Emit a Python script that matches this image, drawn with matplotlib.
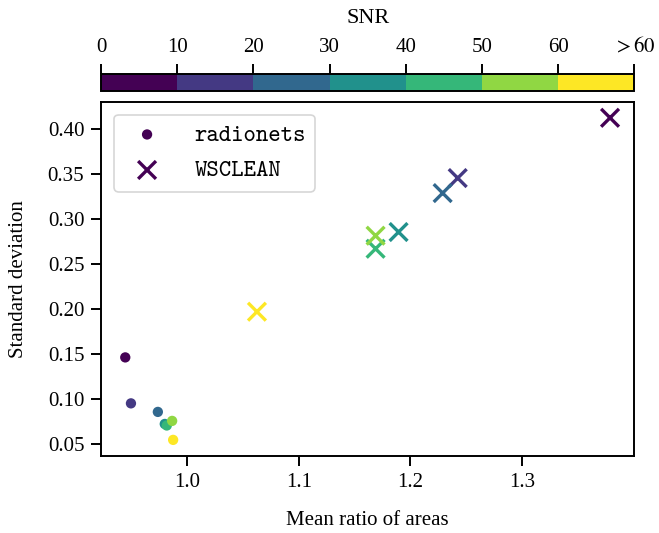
import numpy as np
import matplotlib
matplotlib.use("Agg")
import matplotlib.pyplot as plt
from matplotlib.colors import ListedColormap, BoundaryNorm
from matplotlib.font_manager import FontProperties
import os

plt.rcParams["font.family"] = ["Liberation Serif", "DejaVu Serif"]
plt.rcParams["mathtext.fontset"] = "stix"
plt.rcParams["font.size"] = 15

# SNR bins (lower edges) and their tick labels
snr_edges = [0, 10, 20, 30, 40, 50, 60, 70]
snr_ticklabels = ["0", "10", "20", "30", "40", "50", "60", r"$>60$"]
snr_centers = [5, 15, 25, 35, 45, 55, 65]

# radionets: mean ratio of areas / standard deviation per SNR bin
radionets_ratio = [0.9446, 0.9497, 0.9738, 0.9800, 0.9818, 0.9866, 0.9875]
radionets_std = [0.1462, 0.0951, 0.0856, 0.0722, 0.0705, 0.0756, 0.0545]

# WSCLEAN: mean ratio of areas / standard deviation per SNR bin
wsclean_ratio = [1.3790, 1.2425, 1.2290, 1.1895, 1.1689, 1.1689, 1.0626]
wsclean_std = [0.4126, 0.3456, 0.3289, 0.2856, 0.2670, 0.2815, 0.1970]

cmap = ListedColormap(plt.get_cmap("viridis")(np.linspace(0, 1, 7)))
norm = BoundaryNorm(snr_edges, cmap.N)

fig = plt.figure(figsize=(6.59, 5.33), dpi=100)
ax = fig.add_axes([0.1533, 0.1445, 0.8092, 0.6647])
cax = fig.add_axes([0.1533, 0.8298, 0.8092, 0.0314])

ax.scatter(radionets_ratio, radionets_std, c=snr_centers, cmap=cmap, norm=norm,
           marker="o", s=55, linewidths=0, label="radionets", zorder=2)
ax.scatter(wsclean_ratio, wsclean_std, c=snr_centers, cmap=cmap, norm=norm,
           marker="x", s=165, linewidths=2.4, label="WSCLEAN", zorder=3)

ax.set_xticks([1.0, 1.1, 1.2, 1.3])
ax.set_yticks([0.05, 0.10, 0.15, 0.20, 0.25, 0.30, 0.35, 0.40])
ax.set_xlabel("Mean ratio of areas", labelpad=14)
ax.set_ylabel("Standard deviation", labelpad=14)
for sp in ax.spines.values():
    sp.set_linewidth(1.4)
ax.tick_params(direction="out", length=7, width=1.4, pad=5)

mono = os.path.join(matplotlib.get_data_path(), "fonts", "ttf", "cmtt10.ttf")
leg = ax.legend(loc="upper left", prop=FontProperties(fname=mono, size=17),
                borderpad=0.4, labelspacing=0.55, handletextpad=1.0,
                borderaxespad=0.55, framealpha=0.8, fancybox=True)
leg.get_frame().set_linewidth(1.2)
for h in leg.legend_handles:
    h.set_color(cmap(0))

cb = fig.colorbar(plt.cm.ScalarMappable(norm=norm, cmap=cmap), cax=cax,
                  orientation="horizontal", ticks=snr_edges)
cax.xaxis.set_ticks_position("top")
cax.xaxis.set_label_position("top")
cb.set_ticklabels(snr_ticklabels)
cb.set_label("SNR", labelpad=10, fontsize=16)
cb.outline.set_linewidth(1.4)
cax.tick_params(direction="out", length=7, width=1.4, pad=5)
cax.minorticks_off()

fig.savefig("out.png", dpi=100)
